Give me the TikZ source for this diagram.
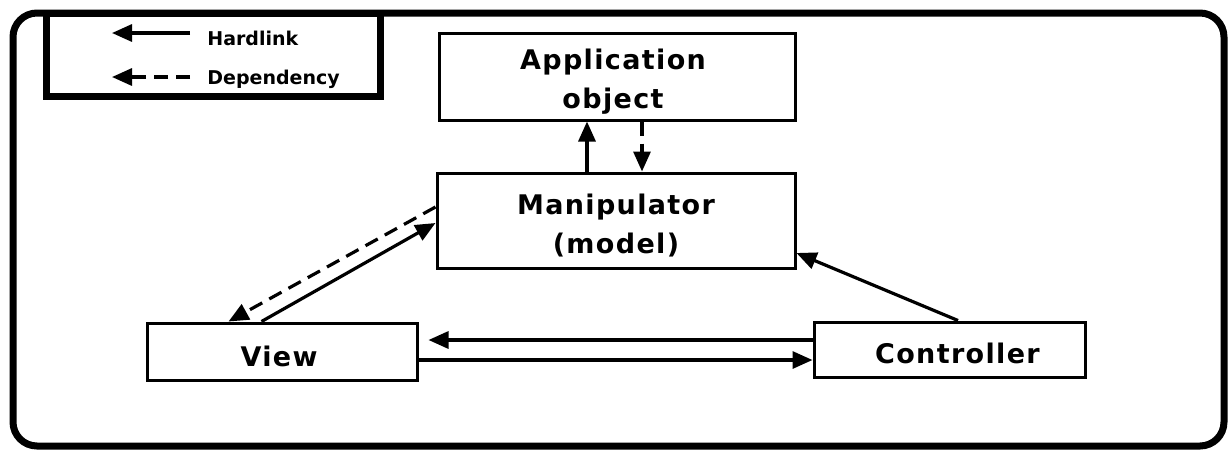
\documentclass[tikz,border=0pt]{standalone}
\usepackage{fontspec}
\setmainfont{DejaVu Sans}
\newfontfamily\boxfont[LetterSpace=5]{DejaVu Sans}
\newfontfamily\legfont{DejaVu Sans}
\usetikzlibrary{arrows.meta,calc}

\tikzset{
  box/.style={draw, line width=1.5pt, inner sep=0pt},
  boxtext/.style={inner sep=0pt, align=center,
    font=\boxfont\bfseries\fontsize{13.5}{19.5}\selectfont},
  legtext/.style={inner sep=0pt, font=\legfont\bfseries\fontsize{9.5}{11}\selectfont},
  legendbox/.style={draw, line width=3.5pt, inner sep=0pt},
  hard/.style={line width=1.6pt, -{Triangle[length=10pt,width=8.5pt]}},
  dep/.style={hard, dash pattern=on 7pt off 4pt},
}

\begin{document}
\begin{tikzpicture}[x=0.5pt, y=-0.5pt]
  \useasboundingbox[fill=white] (0,0) rectangle (1228,452);

  % outer frame
  \draw[line width=3.5pt, rounded corners=12pt] (13,13) rectangle (1224,446);

  % legend
  \node[legendbox, minimum width=166.75pt, minimum height=41.75pt] (legend) at (213.25,54.75) {};
  \coordinate (hstart) at (190,33);
  \coordinate (hend) at (112,33);
  \coordinate (dstart) at (190,77);
  \coordinate (dend) at (112,77);
  \draw[hard] (hstart) -- (hend);
  \draw[dep] (dstart) -- (dend);
  \node[legtext, anchor=base west] (hardtxt) at (207,45) {Hardlink};
  \node[legtext, anchor=base west] (deptxt) at (207,84) {Dependency};

  % components
  \node[box, minimum width=178pt, minimum height=43.5pt] (app) at (617,76.5) {};
  \node[box, minimum width=179pt, minimum height=47.5pt] (manip) at (616,220.5) {};
  \node[box, minimum width=135pt, minimum height=28.5pt] (view) at (282,351.5) {};
  \node[box, minimum width=135.5pt, minimum height=27.5pt] (ctrl) at (949.5,349.5) {};
  \node[boxtext] (apptext) at ($(app.center)+(-4,5)$) {Application\\object};
  \node[boxtext] (maniptext) at ($(manip.center)+(0,5)$) {Manipulator\\(model)};
  \node[boxtext, anchor=base] (viewtext) at ($(view.center)+(-3,15)$) {View};
  \node[boxtext, anchor=base] (ctrltext) at ($(ctrl.center)+(8,14)$) {Controller};

  % links
  \draw[hard] ($(manip.north)+(-29,0)$) -- ($(app.south)+(-30,0)$);
  \draw[dep]  ($(app.south)+(25,0)$) -- ($(manip.north)+(26,0)$);
  \draw[dep]  ($(manip.west)+(0,-13.5)$) -- ($(view.north west)+(83,0)$);
  \draw[hard] ($(view.north west)+(116,0)$) -- ($(manip.west)+(0,2.5)$);
  \draw[hard] ($(ctrl.north)+(8.5,0)$) -- ($(manip.east)+(0,32.5)$);
  \draw[hard] ($(ctrl.west)+(0,-9.5)$) -- ($(view.east)+(10,-11.5)$);
  \draw[hard] ($(view.east)+(0,8.5)$) -- ($(ctrl.west)+(0,10.5)$);
\end{tikzpicture}
\end{document}
